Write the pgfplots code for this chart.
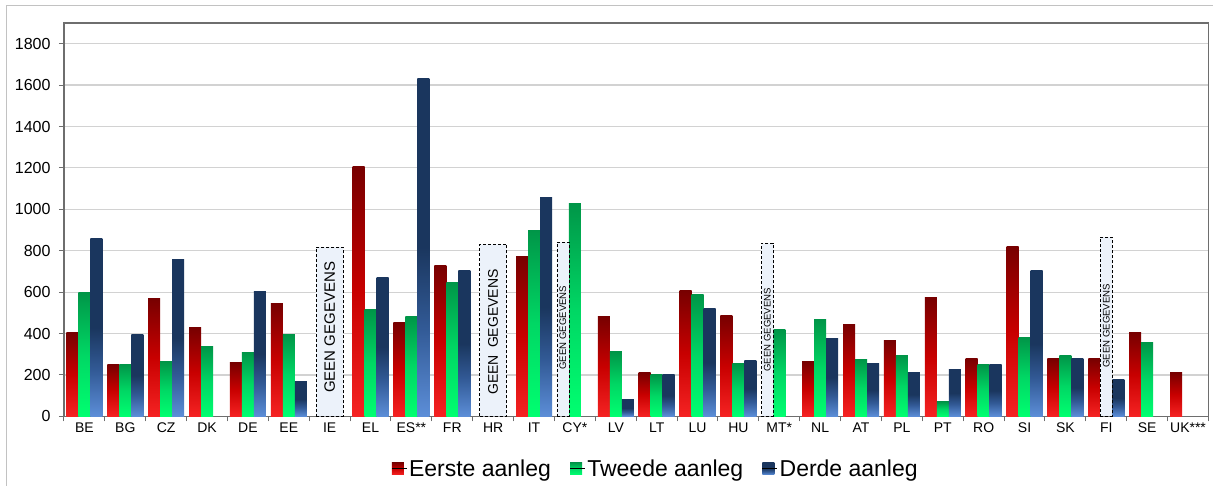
\documentclass[border=0pt]{standalone}
\usepackage{fontspec}
\setmainfont{Liberation Sans}
\usepackage{pgfplots}
\pgfplotsset{compat=1.18}

\definecolor{rtop}{RGB}{120,0,0}
\definecolor{rmid}{RGB}{200,0,0}
\definecolor{rbot}{RGB}{245,35,35}
\definecolor{gtop}{RGB}{0,150,72}
\definecolor{gmid}{RGB}{0,215,100}
\definecolor{gbot}{RGB}{0,255,112}
\definecolor{btop}{RGB}{26,54,94}
\definecolor{bmid}{RGB}{50,90,150}
\definecolor{bbot}{RGB}{92,142,216}
\definecolor{gridc}{RGB}{210,210,210}
\definecolor{axc}{RGB}{110,110,110}
\definecolor{nodata}{RGB}{236,242,250}

% vertical shadings, path is fitted to 25bp..75bp
\pgfdeclareverticalshading{redbar}{100bp}{color(0bp)=(rbot); color(25bp)=(rbot); color(50bp)=(rmid); color(75bp)=(rtop); color(100bp)=(rtop)}
\pgfdeclareverticalshading{greenbar}{100bp}{color(0bp)=(gbot); color(25bp)=(gbot); color(50bp)=(gmid); color(75bp)=(gtop); color(100bp)=(gtop)}
\pgfdeclareverticalshading{bluebar}{100bp}{color(0bp)=(bbot); color(25bp)=(bbot); color(38bp)=(bmid); color(50bp)=(btop); color(75bp)=(btop); color(100bp)=(btop)}

% one \addplot per bar so that every bar gets its own gradient
\pgfplotsset{
  eerste/.style={ybar, forget plot, bar width=12pt, bar shift=-12pt, draw=none, shading=redbar},
  tweede/.style={ybar, forget plot, bar width=12pt, bar shift=0pt, draw=none, shading=greenbar},
  derde/.style={ybar, forget plot, bar width=12pt, bar shift=12pt, draw=none, shading=bluebar},
  geen/.style={ybar, forget plot, draw=black, densely dashed, line width=0.8pt, fill=nodata},
  geentxt/.style={forget plot, draw=none, mark=none, nodes near coords={#1},
    every node near coord/.append style={rotate=90, anchor=west, inner sep=0pt}},
}

\begin{document}
\begin{tikzpicture}
\path (0pt,0pt) rectangle (1213pt,486pt);
\draw[gridc!80!gray, line width=1pt] (7pt,0pt) -- (7pt,480pt) -- (1213pt,480pt);
\begin{axis}[
    at={(64pt,69.5pt)}, anchor=south west,
    scale only axis,
    width=1145pt, height=393.5pt,
    xmin=-0.5, xmax=27.5,
    ymin=0, ymax=1900,
    ytick={0,200,...,1800},
    ymajorgrids,
    grid style={gridc, line width=1.2pt},
    axis line style={axc, line width=1.3pt},
    tick style={axc, line width=1pt},
    tick align=outside,
    major tick length=5pt,
    ytick pos=left,
    xtick pos=lower,
    xtick={-0.5,0.5,...,27.5},
    xticklabels={},
    extra x ticks={0,1,...,27},
    extra x tick labels={BE,BG,CZ,DK,DE,EE,IE,EL,ES**,FR,HR,IT,CY*,LV,LT,LU,HU,MT*,NL,AT,PL,PT,RO,SI,SK,FI,SE,UK***},
    extra x tick style={major tick length=0pt, grid=none},
    x tick label style={font=\fontsize{14}{16}\selectfont, yshift=-3pt},
    y tick label style={font=\fontsize{16}{18}\selectfont, xshift=-5pt},
    /pgf/number format/assume math mode=true,
    /pgf/number format/1000 sep={},
    scaled y ticks=false,
    legend style={at={(0.517,-0.133)}, anchor=center, draw=none, fill=none,
        legend columns=3, font=\fontsize{23}{26}\selectfont,
        /tikz/every even column/.append style={column sep=17pt}},
    legend image code/.code={\path[#1, draw=none] (0pt,-6pt) rectangle (12pt,6pt); \path (0pt,0pt) -- (15pt,0pt);},
]
\addlegendimage{shading=redbar}
\addlegendentry{Eerste aanleg}
\addlegendimage{shading=greenbar}
\addlegendentry{Tweede aanleg}
\addlegendimage{shading=bluebar}
\addlegendentry{Derde aanleg}

% Eerste aanleg
\addplot[eerste] coordinates {(0,403)};
\addplot[eerste] coordinates {(1,249)};
\addplot[eerste] coordinates {(2,567)};
\addplot[eerste] coordinates {(3,427)};
\addplot[eerste] coordinates {(4,258)};
\addplot[eerste] coordinates {(5,543)};
\addplot[eerste] coordinates {(7,1205)};
\addplot[eerste] coordinates {(8,451)};
\addplot[eerste] coordinates {(9,727)};
\addplot[eerste] coordinates {(11,770)};
\addplot[eerste] coordinates {(13,480)};
\addplot[eerste] coordinates {(14,210)};
\addplot[eerste] coordinates {(15,606)};
\addplot[eerste] coordinates {(16,485)};
\addplot[eerste] coordinates {(18,263)};
\addplot[eerste] coordinates {(19,442)};
\addplot[eerste] coordinates {(20,365)};
\addplot[eerste] coordinates {(21,572)};
\addplot[eerste] coordinates {(22,278)};
\addplot[eerste] coordinates {(23,818)};
\addplot[eerste] coordinates {(24,278)};
\addplot[eerste] coordinates {(25,278)};
\addplot[eerste] coordinates {(26,403)};
\addplot[eerste] coordinates {(27,210)};

% Tweede aanleg
\addplot[tweede] coordinates {(0,596)};
\addplot[tweede] coordinates {(1,249)};
\addplot[tweede] coordinates {(2,263)};
\addplot[tweede] coordinates {(3,336)};
\addplot[tweede] coordinates {(4,307)};
\addplot[tweede] coordinates {(5,394)};
\addplot[tweede] coordinates {(7,514)};
\addplot[tweede] coordinates {(8,480)};
\addplot[tweede] coordinates {(9,645)};
\addplot[tweede] coordinates {(11,896)};
\addplot[tweede] coordinates {(12,1026)};
\addplot[tweede] coordinates {(13,311)};
\addplot[tweede] coordinates {(14,200)};
\addplot[tweede] coordinates {(15,587)};
\addplot[tweede] coordinates {(16,253)};
\addplot[tweede] coordinates {(17,418)};
\addplot[tweede] coordinates {(18,466)};
\addplot[tweede] coordinates {(19,273)};
\addplot[tweede] coordinates {(20,292)};
\addplot[tweede] coordinates {(21,70)};
\addplot[tweede] coordinates {(22,249)};
\addplot[tweede] coordinates {(23,379)};
\addplot[tweede] coordinates {(24,292)};
\addplot[tweede] coordinates {(26,355)};

% Derde aanleg
\addplot[derde] coordinates {(0,857)};
\addplot[derde] coordinates {(1,394)};
\addplot[derde] coordinates {(2,756)};
\addplot[derde] coordinates {(4,601)};
\addplot[derde] coordinates {(5,167)};
\addplot[derde] coordinates {(7,669)};
\addplot[derde] coordinates {(8,1634)};
\addplot[derde] coordinates {(9,703)};
\addplot[derde] coordinates {(11,1055)};
\addplot[derde] coordinates {(13,80)};
\addplot[derde] coordinates {(14,200)};
\addplot[derde] coordinates {(15,519)};
\addplot[derde] coordinates {(16,268)};
\addplot[derde] coordinates {(18,374)};
\addplot[derde] coordinates {(19,253)};
\addplot[derde] coordinates {(20,210)};
\addplot[derde] coordinates {(21,225)};
\addplot[derde] coordinates {(22,249)};
\addplot[derde] coordinates {(23,703)};
\addplot[derde] coordinates {(24,278)};
\addplot[derde] coordinates {(25,176)};

% geen gegevens boxes
\addplot[geen, bar width=27pt, bar shift=0pt] coordinates {(6,817) (10,831)};
\addplot[geen, bar width=12pt, bar shift=-12pt] coordinates {(12,841) (17,836)};
\addplot[geen, bar width=12pt, bar shift=0pt] coordinates {(25,865)};

% labels in the boxes
\addplot[geentxt={GEEN GEGEVENS}, every node near coord/.append style={font=\fontsize{15}{16}\selectfont}]
 coordinates {(6,113)};
\addplot[geentxt={GEEN\hspace{0.5em}GEGEVENS}, every node near coord/.append style={font=\fontsize{14}{15}\selectfont}]
 coordinates {(10,104)};
\addplot[geentxt={GEEN GEGEVENS}, every node near coord/.append style={font=\fontsize{9.6}{10}\selectfont}]
 coordinates {(11.707,225) (16.707,215) (25,234)};
\end{axis}
\end{tikzpicture}
\end{document}
